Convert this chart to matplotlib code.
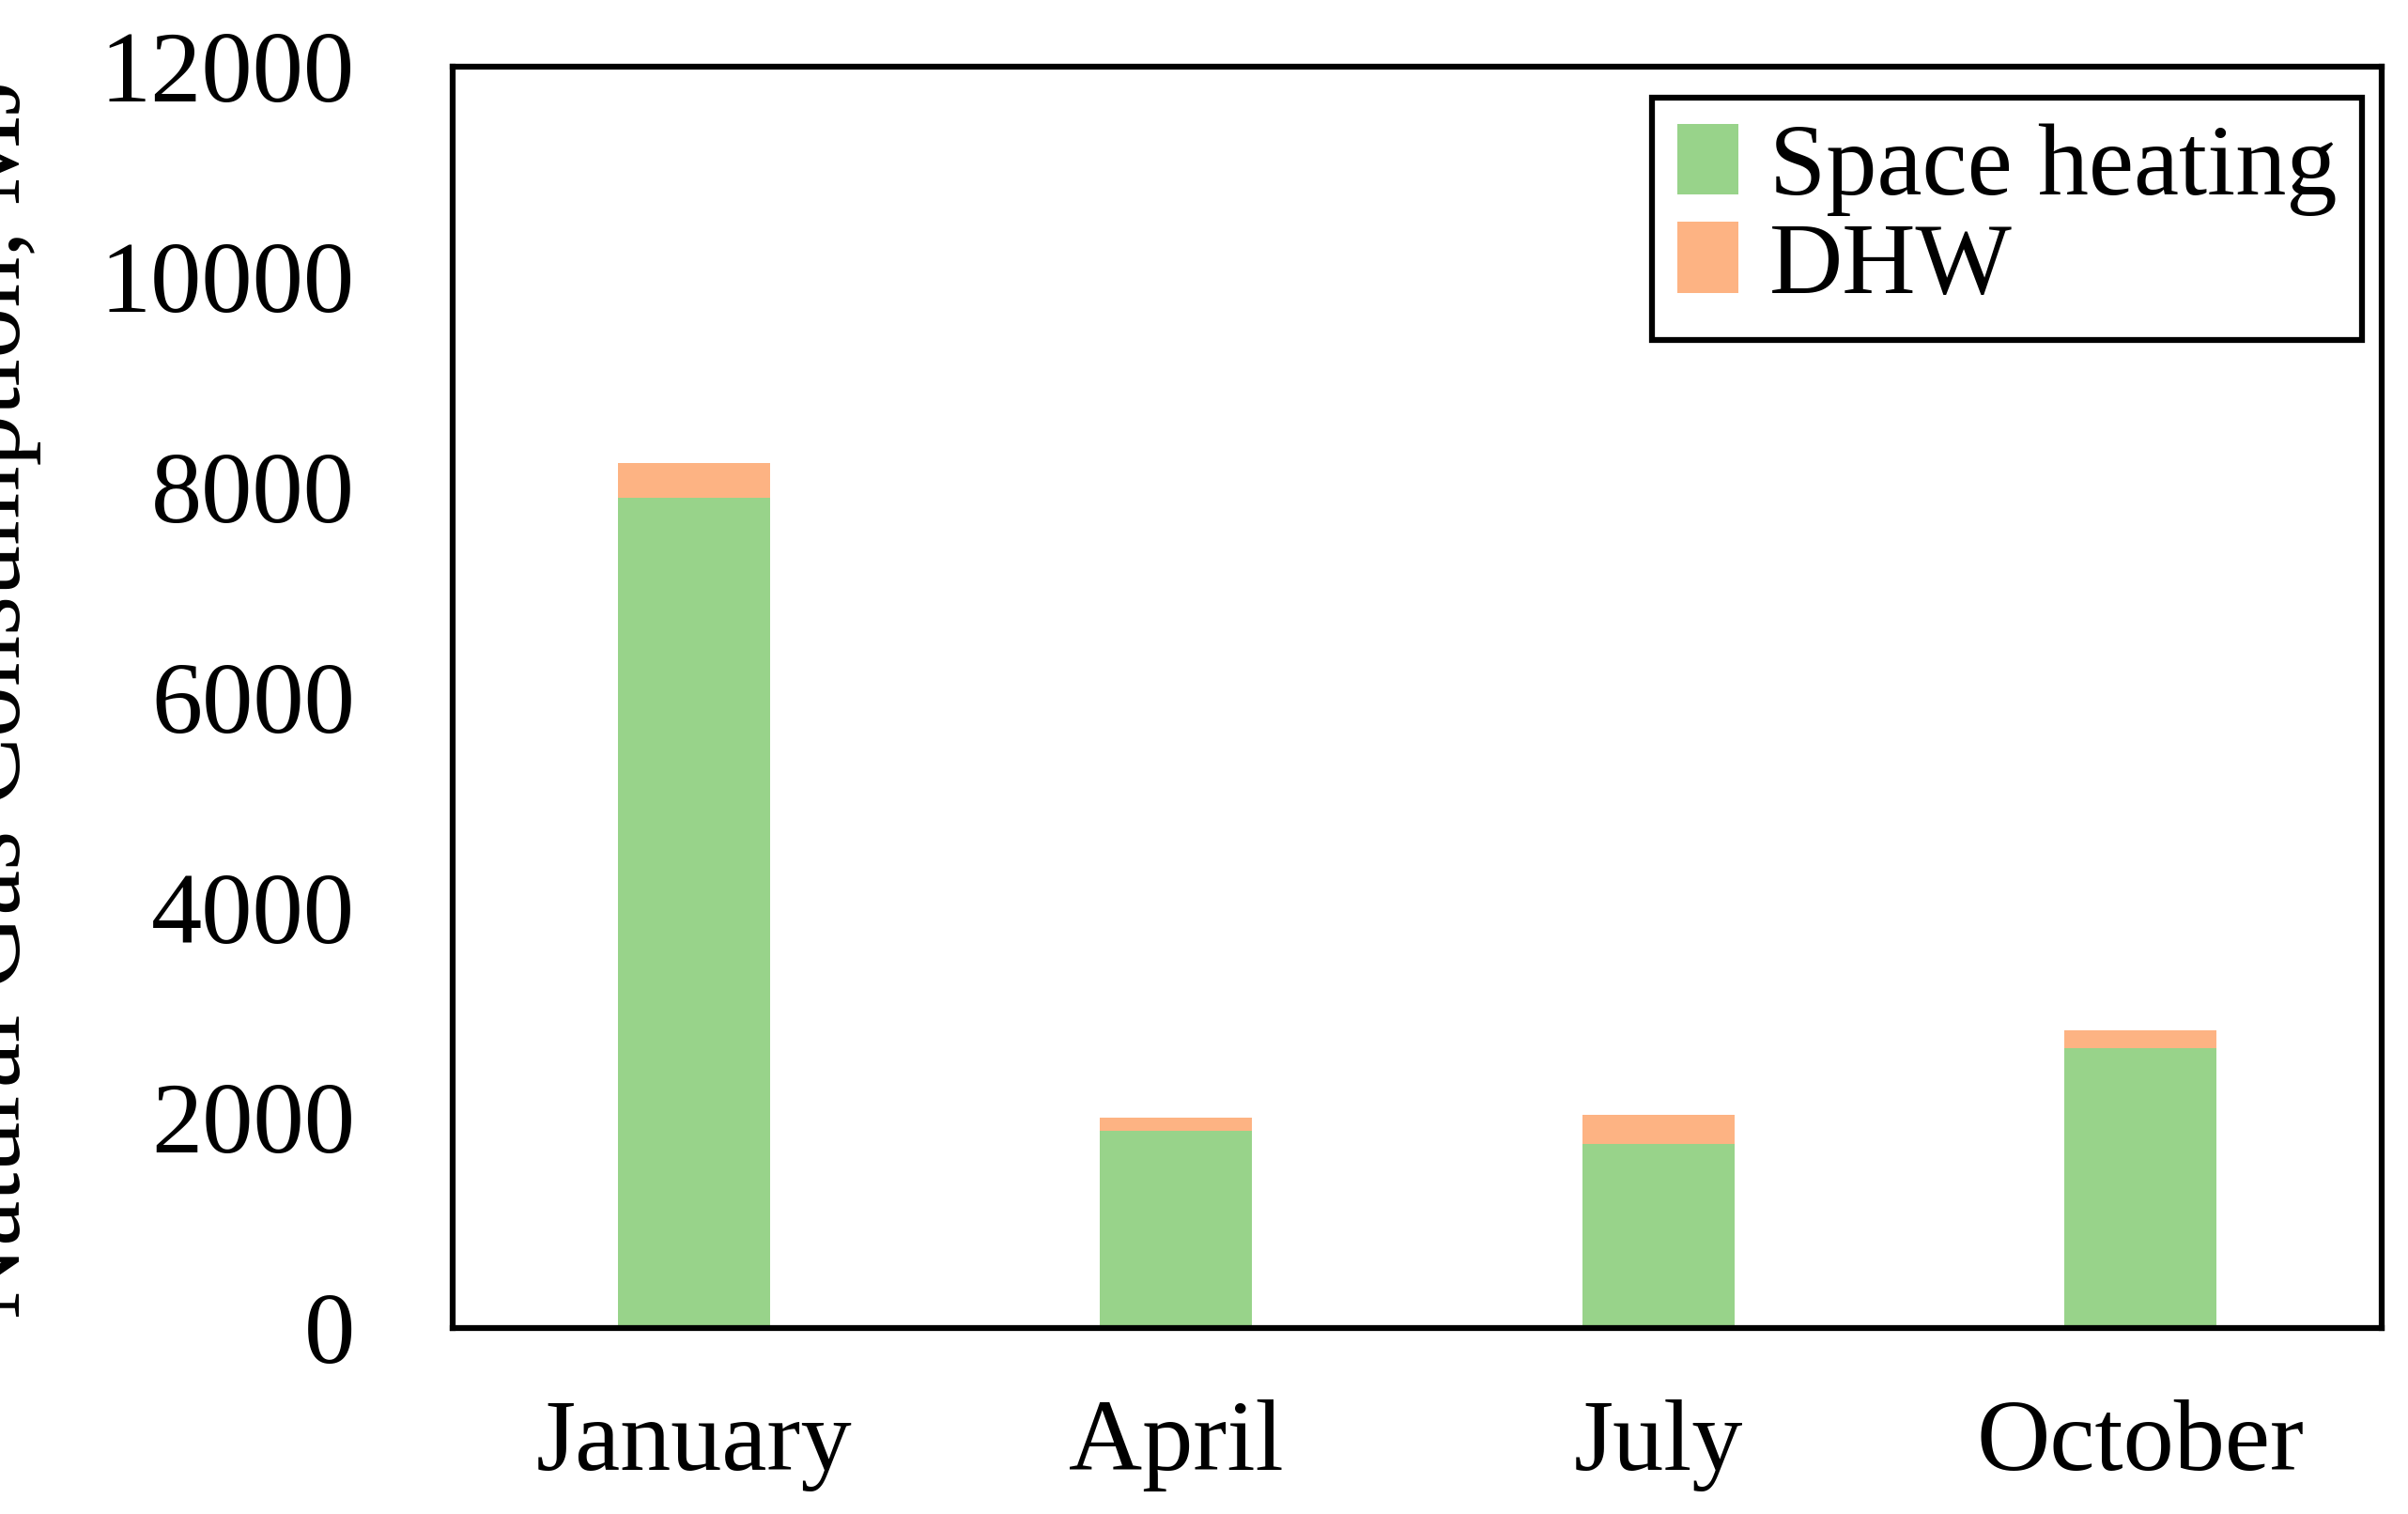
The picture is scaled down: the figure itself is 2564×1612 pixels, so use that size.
import matplotlib
matplotlib.use("Agg")
import matplotlib.pyplot as plt
import numpy as np

months = ["January", "April", "July", "October"]
space_heating = [7900, 1870, 1750, 2660]
dhw = [330, 130, 280, 170]

plt.rcParams['font.family'] = ['Liberation Serif', 'DejaVu Serif']
fig = plt.figure(figsize=(25.64, 16.12), dpi=100)
ax = fig.add_axes([0.188, 0.123, 0.801, 0.833])
x = np.arange(len(months))
ax.bar(x, space_heating, width=0.315, color='#98D38A', label='Space heating')
ax.bar(x, dhw, width=0.315, bottom=space_heating, color='#FDB383', label='DHW')
ax.set_xlim(-0.5, 3.5)
ax.set_ylim(0, 12000)
ax.set_yticks(range(0, 12001, 2000))
ax.set_xticks(x)
ax.set_xticklabels(months)
ax.tick_params(axis='y', labelsize=78, length=0, pad=75)
ax.tick_params(axis='x', labelsize=78, length=0, pad=55)
ax.set_ylabel('Natural Gas Consumption, MJ', fontsize=78, labelpad=45)
for s in ax.spines.values():
    s.set_linewidth(4.5)
leg = ax.legend(loc='upper right', fontsize=78, fancybox=False, edgecolor='black',
                bbox_to_anchor=(0.99, 0.975), handlelength=0.6, handleheight=0.7,
                handletextpad=0.3, borderpad=0.25, labelspacing=0.05,
                borderaxespad=0)
leg.get_frame().set_linewidth(4.5)
leg.get_frame().set_alpha(1)
fig.canvas.draw()
# widen legend box toward reference proportions
leg._legend_box.align = 'left'
leg.set_bbox_to_anchor((0.99, 0.975))
fig.savefig('out.png', dpi=100)
